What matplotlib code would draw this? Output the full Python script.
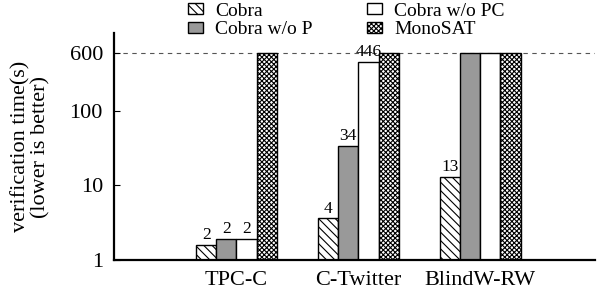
import numpy as np
from matplotlib import pyplot as plt

plt.rcParams['font.family'] = 'serif'
plt.rcParams['font.serif'] = ['Liberation Serif', 'Times New Roman', 'DejaVu Serif']
plt.rcParams['hatch.linewidth'] = 0.8

benchmarks = ['TPC-C', 'C-Twitter', 'BlindW-RW']
series = ['Cobra', 'Cobra w/o P', 'Cobra w/o PC', 'MonoSAT']
cobra = [1.6, 3.6, 13]
cobra_no_p = [1.9, 34, 600]
cobra_no_pc = [1.9, 446, 600]
monosat = [600, 600, 600]
timeout = 600

values = [cobra, cobra_no_p, cobra_no_pc, monosat]
faces = ['white', '#999999', 'white', 'white']
hatches = ['\\\\\\\\', '', '', 'xxxxxxx']

fig = plt.figure(figsize=(6, 3), dpi=100)
ax = fig.add_axes([0.19, 0.1333, 0.8017, 0.7567])

x = np.arange(len(benchmarks))
w = 0.165
for k, (vals, name) in enumerate(zip(values, series)):
    pos = x + (k - 1.5) * w
    heights = np.array(vals) - 1
    ax.bar(pos, heights, w, bottom=1, color=faces[k], edgecolor='black',
           hatch=hatches[k], linewidth=1.0, label=name, zorder=2)
    # 超时(600s)的柱子不标数值
    for p, v in zip(pos, vals):
        if v < timeout:
            ax.text(p, v * 1.06, f'{v:.0f}', ha='center', va='bottom', fontsize=12.5)

ax.axhline(timeout, color='#555555', linestyle=(0, (4, 4)), linewidth=0.8, zorder=1)

ax.set_yscale('log')
ax.set_ylim(1, 1100)
ax.set_xlim(-1.004, 2.94)
ax.set_yticks([1, 10, 100, 600])
ax.set_yticklabels(['1', '10', '100', '600'])
ax.minorticks_off()
ax.tick_params(axis='y', direction='in', length=4, labelsize=16, pad=8)
ax.tick_params(axis='x', length=0, labelsize=16, pad=8)
ax.set_xticks(x)
ax.set_xticklabels(benchmarks)
ax.set_ylabel('verification time(s)\n(lower is better)', fontsize=16, linespacing=1.0)
ax.yaxis.set_label_coords(-0.133, 0.5)

for s in ['top', 'right']:
    ax.spines[s].set_visible(False)
for s in ['left', 'bottom']:
    ax.spines[s].set_linewidth(1.6)

fig.legend(ncol=2, loc='upper left', bbox_to_anchor=(0.29, 1.037), frameon=False,
           fontsize=14, handlelength=0.8, handleheight=0.5, handletextpad=0.6,
           columnspacing=2.8, labelspacing=0.1, borderpad=0.2)

fig.savefig('out.png', dpi=100)
